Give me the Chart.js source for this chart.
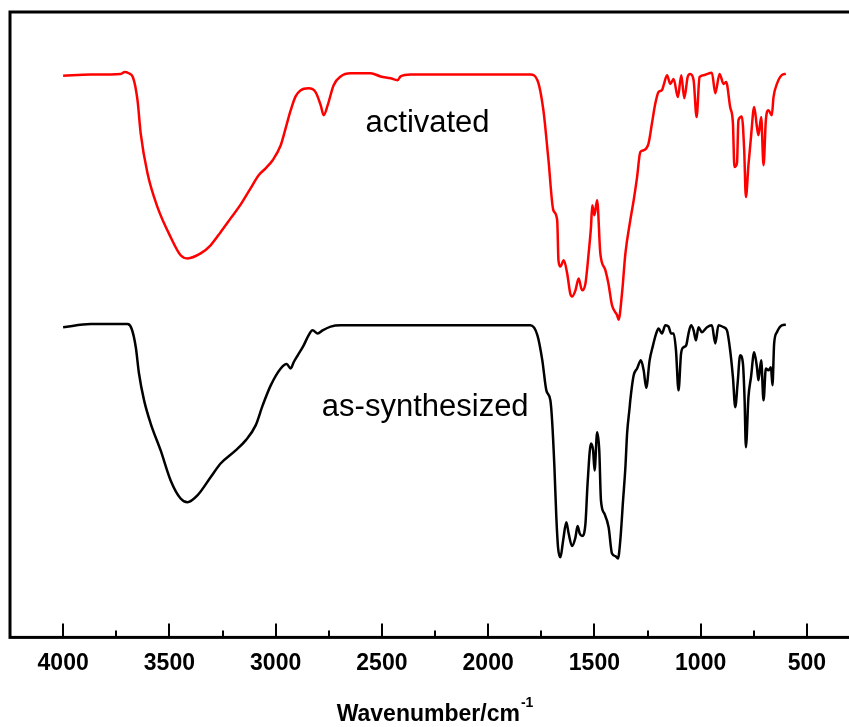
<!DOCTYPE html>
<html>
<head>
<meta charset="utf-8">
<script src="https://cdn.jsdelivr.net/npm/chart.js@4.4.1/dist/chart.umd.min.js"></script>
<style>
  html, body { margin: 0; padding: 0; background: #fff; overflow: hidden; }
  #wrap { width: 849px; height: 727px; overflow: hidden; }
</style>
</head>
<body>
<div id="wrap"><canvas id="ir" width="880" height="727"></canvas></div>
<script>
// FTIR spectra, wavenumber in cm-1, transmittance in arbitrary offset units
const activatedWavenumber = [4000,3870,3729,3710,3691,3672,3650,3635,3603,3556,3494,3447,3415,3353,3306,3259,3212,3165,3118,3080,3047,3014,2976,2953,2929,2906,2882,2845,2812,2788,2774,2755,2727,2694,2647,2553,2506,2459,2426,2412,2365,1801,1768,1740,1716,1693,1675,1669,1660,1644,1628,1613,1605,1589,1574,1558,1542,1527,1516,1510,1500,1487,1472,1448,1434,1417,1393,1386,1370,1354,1331,1315,1299,1284,1268,1245,1229,1213,1198,1182,1174,1158,1143,1127,1107,1091,1077,1061,1049,1033,1019,1005,986,947,931,911,892,880,861,848,841,829,822,806,795,787,775,763,748,735,728,715,704,693,681,665,657,641,618,599];
const activatedSignal = [89.8,90.0,90.1,90.4,90.2,89.6,85.9,80.6,74.2,68.8,64.0,61.1,60.6,61.4,62.7,64.8,67.0,69.2,71.8,73.9,75.0,76.3,78.7,81.4,84.3,86.5,87.5,87.8,87.2,85.1,83.5,85.1,88.3,89.7,90.2,90.2,89.7,89.4,89.1,89.7,90.0,90.0,89.1,84.3,76.3,68.3,66.7,60.3,59.3,60.3,58.2,54.9,54.5,55.5,57.4,55.5,56.6,61.4,65.6,69.1,67.5,69.9,61.4,58.7,56.6,53.1,51.5,50.8,55.0,61.4,66.7,69.9,73.6,77.6,77.9,79.0,82.2,85.4,87.2,87.5,88.3,89.9,88.5,89.3,86.4,89.9,86.2,89.6,90.1,89.1,83.2,89.6,89.9,90.3,87.0,90.1,88.5,88.8,84.8,82.2,75.2,75.8,82.7,83.3,77.9,70.4,75.5,80.0,84.8,81.6,80.3,83.2,75.5,82.7,84.3,83.5,86.4,88.5,89.9,90.1];

const asSynWavenumber = [4000,3870,3697,3678,3658,3643,3619,3588,3541,3494,3447,3415,3368,3306,3259,3188,3141,3094,3061,3023,2976,2948,2929,2915,2896,2868,2845,2826,2802,2779,2741,2694,1801,1768,1745,1726,1707,1699,1688,1679,1671,1660,1647,1632,1621,1605,1589,1579,1569,1558,1542,1532,1516,1506,1499,1487,1477,1469,1453,1433,1417,1401,1389,1378,1365,1354,1346,1334,1331,1315,1299,1281,1268,1256,1240,1224,1209,1198,1182,1166,1151,1139,1127,1116,1104,1092,1080,1068,1057,1045,1033,1022,1010,994,970,947,931,916,892,876,861,848,837,826,814,801,793,787,775,763,748,735,728,715,704,693,681,669,662,654,641,618,599];
const asSynSignal = [49.6,50.1,50.1,49.4,46.4,42.2,37.9,34.2,29.9,25.1,22.2,21.6,22.7,25.6,27.8,29.9,31.5,33.9,37.1,40.3,43.0,43.7,43.0,44.0,45.1,46.7,48.3,49.1,48.6,49.1,49.7,49.9,49.9,48.3,44.3,39.5,37.9,34.7,27.2,19.2,14.4,12.8,15.5,18.4,16.6,14.6,16.0,17.8,16.6,16.2,18.2,24.6,31.0,29.9,26.7,32.8,29.9,21.9,19.8,17.6,13.4,13.0,12.6,15.5,21.9,27.2,32.6,36.8,37.9,41.9,43.0,44.3,42.7,39.9,44.3,46.7,48.6,49.4,48.6,49.9,49.7,48.6,48.6,45.9,39.5,45.4,46.4,46.7,48.6,49.9,49.1,47.5,49.6,48.8,49.6,49.9,47.0,49.9,49.6,49.1,45.9,41.6,36.8,40.6,45.1,43.8,37.9,30.4,38.4,41.6,45.6,43.2,41.1,44.3,37.9,43.0,42.7,43.2,40.3,47.0,48.8,49.9,50.0];

const tickValues = [4000,3500,3000,2500,2000,1500,1000,500];
const minorTickValues = [3750,3250,2750,2250,1750,1250,750];
const seriesNames = ['activated','as-synthesized'];
const labelSpots = [[2285, 82.1], [2296, 36.8]];

function toPoints(xs, ys){
    return xs.map((x,i)=>({x:x, y:ys[i]}))
}

// frame, inward ticks, axis title and curve names
const decorations = {
    id:'decorations',
    afterDraw(chart){
        const ctx=chart.ctx
        const a=chart.chartArea
        const xs=chart.scales.x
        const ys=chart.scales.y
        ctx.save()
        ctx.strokeStyle='#000'
        ctx.lineWidth=3
        ctx.strokeRect(a.left,a.top,a.right-a.left,a.bottom-a.top)
        ctx.lineWidth=2
        tickValues.forEach(v=>{
            const px=Math.round(xs.getPixelForValue(v))
            ctx.beginPath(); ctx.moveTo(px,a.bottom); ctx.lineTo(px,a.bottom-14); ctx.stroke()
        })
        minorTickValues.forEach(v=>{
            const px=Math.round(xs.getPixelForValue(v))
            ctx.beginPath(); ctx.moveTo(px,a.bottom); ctx.lineTo(px,a.bottom-7); ctx.stroke()
        })

        // Wavenumber/cm-1
        ctx.fillStyle='#000'
        ctx.textBaseline='middle'
        ctx.font='bold 23px "Liberation Sans", Arial, sans-serif'
        const main='Wavenumber/cm'
        const mw=ctx.measureText(main).width
        ctx.font='bold 14px "Liberation Sans", Arial, sans-serif'
        const sup='-1'
        const sw=ctx.measureText(sup).width
        const cx=(a.left+a.right)/2
        const start=cx-(mw+sw+1)/2
        const ty=a.bottom+77
        ctx.font='bold 23px "Liberation Sans", Arial, sans-serif'
        ctx.textAlign='left'
        ctx.fillText(main,start,ty)
        ctx.font='bold 14px "Liberation Sans", Arial, sans-serif'
        ctx.fillText(sup,start+mw+1,ty-11)

        ctx.font='31px "Liberation Sans", Arial, sans-serif'
        ctx.textAlign='center'
        seriesNames.forEach((n,i)=>{
            ctx.fillText(n,xs.getPixelForValue(labelSpots[i][0]),ys.getPixelForValue(labelSpots[i][1]))
        })
        ctx.restore()
    }
}

new Chart(document.getElementById('ir'),{
    type:'line',
    data:{
        datasets:[{
            label:seriesNames[0],
            data:toPoints(activatedWavenumber,activatedSignal),
            borderColor:'#ff0000',
            borderWidth:2.5,
            pointRadius:0,
            cubicInterpolationMode:'monotone',
        },{
            label:seriesNames[1],
            data:toPoints(asSynWavenumber,asSynSignal),
            borderColor:'#000000',
            borderWidth:2.5,
            pointRadius:0,
            cubicInterpolationMode:'monotone',
        }]
    },
    options:{
        responsive:false,
        animation:false,
        devicePixelRatio:1,
        layout:{ padding:{ left:10, right:20, top:12, bottom:38 } },
        plugins:{ legend:{ display:false }, tooltip:{ enabled:false } },
        scales:{
            x:{
                type:'linear',
                reverse:true,
                min:250,
                max:4250,
                afterBuildTicks: s=>{ s.ticks=tickValues.map(v=>({value:v})) },
                grid:{ display:false, drawTicks:false },
                border:{ display:false },
                ticks:{
                    color:'#000',
                    padding:12,
                    maxRotation:0,
                    autoSkip:false,
                    callback: v=>String(v),
                    font:{ family:'"Liberation Sans", Arial, sans-serif', size:23, weight:'bold' }
                }
            },
            y:{
                display:false,
                min:0,
                max:100
            }
        }
    },
    plugins:[decorations]
});
</script>
</body>
</html>
